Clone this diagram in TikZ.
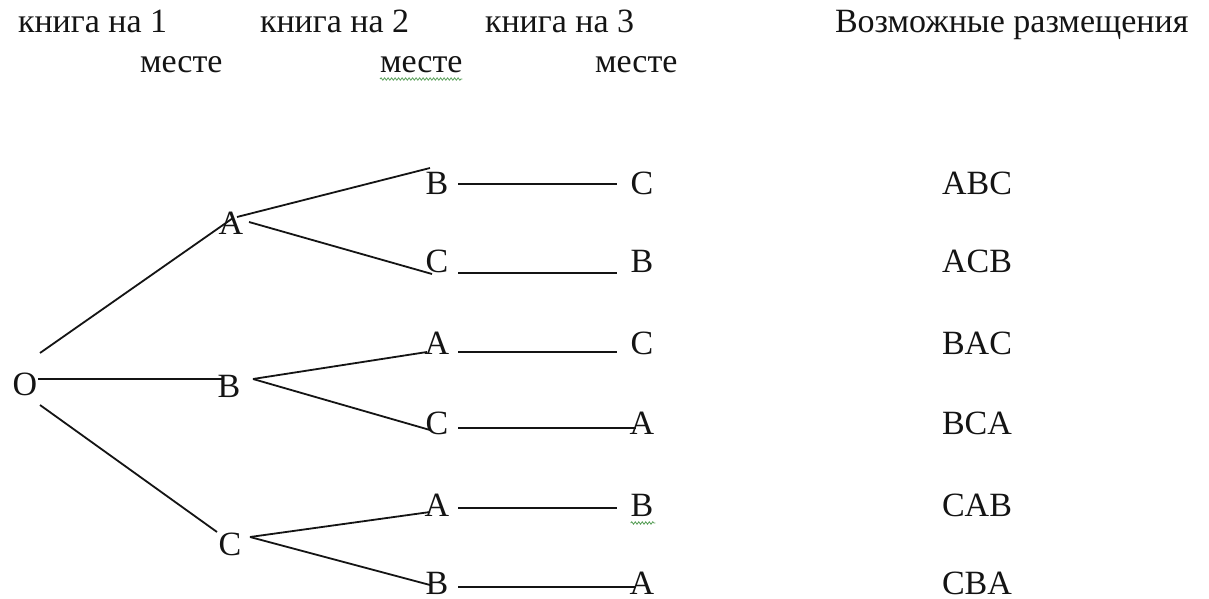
\documentclass[tikz,border=0pt]{standalone}
\usepackage{fontspec}
\setmainfont{Liberation Serif}
\usetikzlibrary{calc,decorations.pathmorphing}
\definecolor{ink}{HTML}{141414}
\definecolor{squig}{HTML}{5AA05A}
\begin{document}
\begin{tikzpicture}[x=1bp,y=-1bp,
  every node/.style={inner sep=0pt,outer sep=0pt,text=ink},
  lbl/.style={anchor=base,font=\fontsize{34bp}{40bp}\selectfont},
  hdr/.style={anchor=base west,font=\fontsize{34bp}{40bp}\selectfont},
  edge/.style={draw=ink,line width=1.8bp},
  spell/.style={draw=squig,line width=0.8bp,decorate,decoration={snake,amplitude=1.2bp,segment length=3.5bp}}]
\useasboundingbox[fill=white] (0,0) rectangle (1209,599);

% headers
\node[hdr] (h1) at (18,33) {книга на 1};
\node[hdr] (h1b) at (140,73) {месте};
\node[hdr] (h2) at (260,33) {книга на 2};
\node[hdr] (h2b) at (380,73) {месте};
\node[hdr] (h3) at (485,33) {книга на 3};
\node[hdr] (h3b) at (595,73) {месте};
\node[hdr] (h4) at (835,33) {Возможные размещения};

% tree
\node[lbl] (O) at (25,395) {O};
\node[lbl] (A1) at (231,235) {A};
\node[lbl] (B1) at (229,397) {B};
\node[lbl] (C1) at (230,555) {C};

\node[lbl] (b21) at (437,195) {B};
\node[lbl] (c22) at (437,273) {C};
\node[lbl] (a23) at (437,355) {A};
\node[lbl] (c24) at (437,434) {C};
\node[lbl] (a25) at (437,516) {A};
\node[lbl] (b26) at (437,594) {B};

\node[lbl] (c31) at (642,195) {C};
\node[lbl] (b32) at (642,273) {B};
\node[lbl] (c33) at (642,355) {C};
\node[lbl] (a34) at (642,434) {A};
\node[lbl] (b35) at (642,516) {B};
\node[lbl] (a36) at (642,594) {A};

\node[lbl] (r1) at (977,195) {ABC};
\node[lbl] (r2) at (977,273) {ACB};
\node[lbl] (r3) at (977,355) {BAC};
\node[lbl] (r4) at (977,434) {BCA};
\node[lbl] (r5) at (977,516) {CAB};
\node[lbl] (r6) at (977,594) {CBA};

% connectors
\draw[edge] ($(O.base)+(15,-42)$) -- ($(A1.base)+(2,-17)$);
\draw[edge] ($(O.base)+(13,-16)$) -- ($(B1.base)+(-7,-18)$);
\draw[edge] ($(O.base)+(15,10)$) -- ($(C1.base)+(-13,-23)$);

\draw[edge] ($(A1.base)+(6,-18)$) -- ($(b21.base)+(-7,-27)$);
\draw[edge] ($(A1.base)+(18,-13)$) -- ($(c22.base)+(-5,1)$);
\draw[edge] ($(B1.base)+(24,-18)$) -- ($(a23.base)+(-10,-3)$);
\draw[edge] ($(B1.base)+(24,-18)$) -- ($(c24.base)+(-7,-4)$);
\draw[edge] ($(C1.base)+(20,-18)$) -- ($(a25.base)+(-7,-4)$);
\draw[edge] ($(C1.base)+(20,-18)$) -- ($(b26.base)+(-7,-9)$);

\draw[edge] ($(b21.base)+(21,-11)$) -- ($(c31.base)+(-25,-11)$);
\draw[edge] ($(c22.base)+(21,0)$) -- ($(b32.base)+(-25,0)$);
\draw[edge] ($(a23.base)+(21,-3)$) -- ($(c33.base)+(-25,-3)$);
\draw[edge] ($(c24.base)+(21,-6)$) -- ($(a34.base)+(-6,-6)$);
\draw[edge] ($(a25.base)+(21,-8)$) -- ($(b35.base)+(-25,-8)$);
\draw[edge] ($(b26.base)+(21,-7)$) -- ($(a36.base)+(-6,-7)$);

% spell-check squiggles
\draw[spell] ($(h2b.base west)+(0,6)$) -- ($(h2b.base east)+(0,6)$);
\draw[spell] ($(b35.base west)+(0,7)$) -- ($(b35.base east)+(2,7)$);
\end{tikzpicture}
\end{document}
